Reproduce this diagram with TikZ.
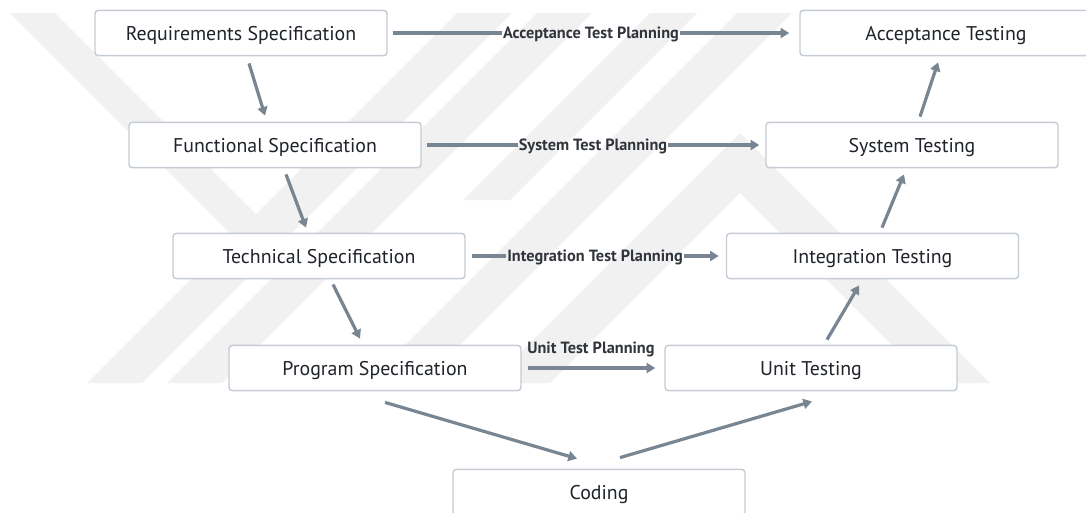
\documentclass[tikz,border=0pt]{standalone}
\usepackage{fontspec}
\setmainfont{PT Sans}
\usetikzlibrary{arrows.meta,calc}
\definecolor{arrowgray}{HTML}{788592}
\definecolor{boxline}{HTML}{C5CCD4}
\definecolor{inkdark}{HTML}{1F232A}
\definecolor{markgray}{HTML}{F1F1F1}
\tikzset{
  stage/.style={draw=boxline, line width=1.1pt, rounded corners=2.5pt, fill=white,
    minimum width=219pt, minimum height=34pt, inner sep=0pt, text=inkdark,
    text height=10.6pt, text depth=0pt,
    font=\fontsize{14.9}{17}\selectfont},
  plan/.style={inner sep=0.6pt, text=inkdark!92, text height=8.6pt, text depth=0pt,
    font=\bfseries\fontsize{12.2}{14}\selectfont},
  flow/.style={draw=arrowgray, line width=2.4pt, -{Triangle[length=6.5pt,width=7.5pt]}},
  bar/.style={draw=arrowgray, line width=2.4pt},
  emblem/.style={fill=markgray}
}
\begin{document}
\begin{tikzpicture}[x=0.75pt,y=-0.75pt]
\useasboundingbox (0,0) rectangle (1086,512);

% faint striped emblem in the background
\begin{scope}
  \clip (0,13) rectangle (1086,383);
  \fill[emblem] (10,13) -- (55,13) -- (256,214) -- (233.5,236.5) -- cycle;
  \fill[emblem] (87,383) -- (142,383) -- (512,13) -- (457,13) -- cycle;
  \fill[emblem] (167,383) -- (222,383) -- (592,13) -- (537,13) -- cycle;
  \fill[emblem] (463,200) -- (510,200) -- (697,13) -- (650,13) -- cycle;
  \fill[emblem] (367,383) -- (422,383) -- (792,13) -- (737,13) -- cycle;
  \fill[emblem] (490,383) -- (740,133) -- (990,383) -- (930,383) -- (740,193) -- (550,383) -- cycle;
\end{scope}

% development side
\node[stage] (req)  at (241,33)  {Requirements Specification};
\node[stage] (func) at (275,145) {Functional Specification};
\node[stage] (tech) at (319,256) {Technical Specification};
\node[stage] (prog) at (375,368) {Program Specification};
% testing side
\node[stage] (acc)  at (946,33)  {Acceptance Testing};
\node[stage] (sys)  at (912,145) {System Testing};
\node[stage] (integ) at (872.5,256) {Integration Testing};
\node[stage] (unit) at (811,368) {Unit Testing};
% bottom of the V
\node[stage] (code) at (599,492) {Coding};

% down the left arm
\draw[flow] ($(req.south)+(8,7)$)   -- ($(func.north)+(-10,-6)$);
\draw[flow] ($(func.south)+(11,6)$) -- ($(tech.north)+(-13,-5)$);
\draw[flow] ($(tech.south)+(14,5)$) -- ($(prog.north)+(-15,-6)$);
\draw[flow] ($(prog.south)+(10,11)$) -- ($(code.north)+(-22,-10)$);
% up the right arm
\draw[flow] ($(code.north)+(21,-11)$) -- ($(unit.south)+(1,10)$);
\draw[flow] ($(unit.north)+(16,-5)$)  -- ($(integ.south)+(-13.5,6)$);
\draw[flow] ($(integ.north)+(9.5,-5)$) -- ($(sys.south)+(-8,6)$);
\draw[flow] ($(sys.north)+(8,-5)$)    -- ($(acc.south)+(-8,6)$);

% test planning links
\node[plan] (pA) at (591,33)  {Acceptance Test Planning};
\draw[bar, shorten <=3.75pt] (req.east) -- (pA.west);
\draw[flow, shorten >=7.5pt] (pA.east) -- (acc.west);

\node[plan] (pS) at (593,145) {System Test Planning};
\draw[bar, shorten <=3.75pt] (func.east) -- (pS.west);
\draw[flow, shorten >=4.5pt] (pS.east) -- (sys.west);

\node[plan] (pI) at (595,256) {Integration Test Planning};
\draw[bar, shorten <=4.5pt] (tech.east) -- (pI.west);
\draw[flow, shorten >=5.25pt] (pI.east) -- (integ.west);

\node[plan] (pU) at (591,348) {Unit Test Planning};
\draw[flow, shorten <=4.5pt, shorten >=6.75pt] (prog.east) -- (unit.west);
\end{tikzpicture}
\end{document}
